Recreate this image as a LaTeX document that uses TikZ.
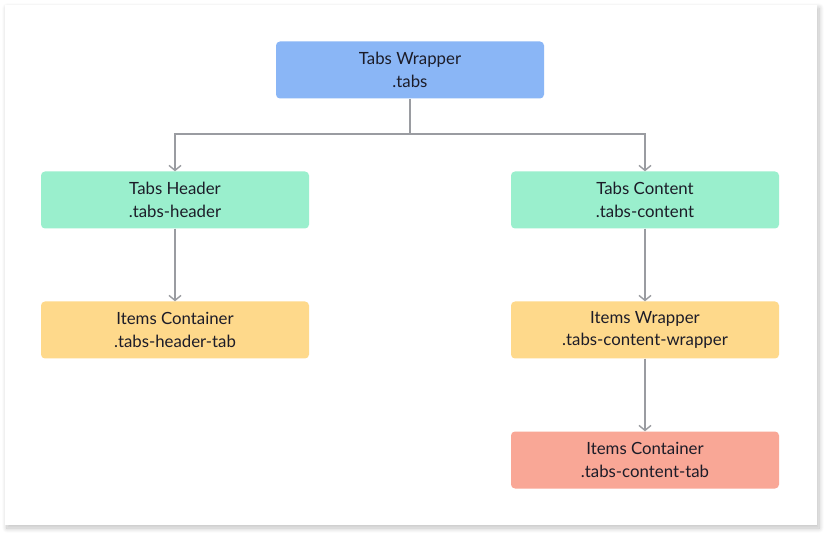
\documentclass[tikz,border=0pt]{standalone}
\usepackage{fontspec}
\setmainfont{Lato}
\usetikzlibrary{arrows.meta,shadows.blur}
\definecolor{wrapblue}{HTML}{8AB6F6}
\definecolor{headgreen}{HTML}{9AEFCD}
\definecolor{itemyellow}{HTML}{FED98B}
\definecolor{itemred}{HTML}{F9A796}
\definecolor{linegray}{HTML}{9A9CA1}
\definecolor{textdark}{HTML}{1C1C28}
\begin{document}
\begin{tikzpicture}[x=1pt, y=-1pt,
		box/.style={rectangle, rounded corners=4pt, minimum width=268pt, minimum height=57pt,
			align=center, text=textdark, font=\fontsize{16.8}{22.5}\selectfont},
		link/.style={draw=linegray, line width=1.4pt, -{Straight Barb[length=5pt, width=12pt, line width=1.4pt]}}]
			\useasboundingbox (0,0) rectangle (831,540);
			\fill[white, blur shadow={shadow xshift=2pt, shadow yshift=-3pt, shadow blur radius=5pt, shadow blur steps=10, shadow opacity=25}] (5,5) rectangle (817,525);

			\draw node[box, fill=wrapblue] (1) at (410,70) {Tabs Wrapper\\.tabs};
			\draw node[box, fill=headgreen] (2) at (175,200) {Tabs Header\\.tabs-header};
			\draw node[box, fill=headgreen] (3) at (645,200) {Tabs Content\\.tabs-content};
			\draw node[box, fill=itemyellow] (4) at (175,330) {Items Container\\.tabs-header-tab};
			\draw node[box, fill=itemyellow] (5) at (645,330) {Items Wrapper\\.tabs-content-wrapper};
			\draw node[box, fill=itemred] (6) at (645,460) {Items Container\\.tabs-content-tab};

			\coordinate (j) at (410,134);
			\draw[link] (1) -- (j) -| (2);
			\draw[link] (j) -| (3);
			\draw[link] (2) -- (4);
			\draw[link] (3) -- (5);
			\draw[link] (5) -- (6);
		\end{tikzpicture}
\end{document}
